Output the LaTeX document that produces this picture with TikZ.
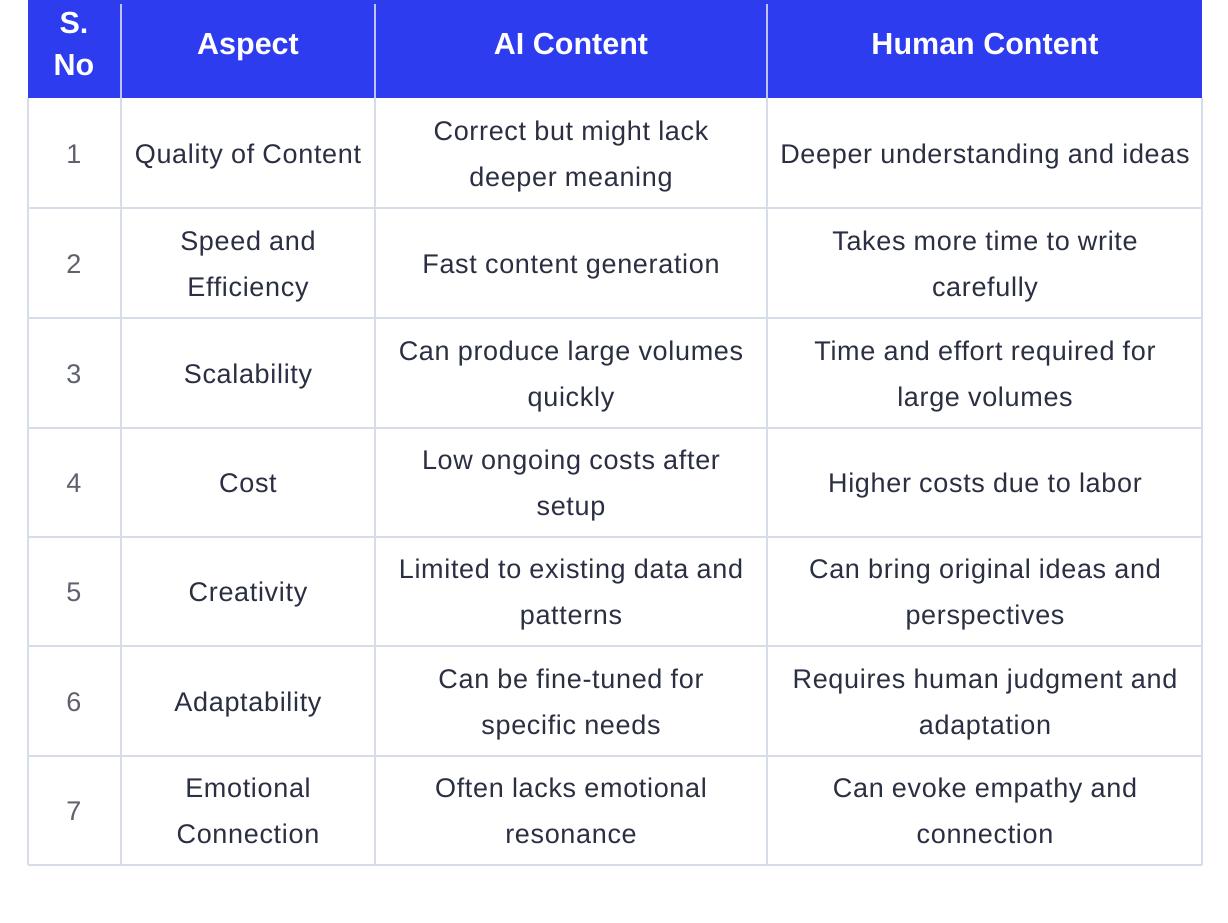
\documentclass[tikz,border=0pt]{standalone}
\usepackage{fontspec}
\setmainfont{Liberation Sans}
\newfontfamily\bodyfont[LetterSpace=2.5]{Liberation Sans}
\newfontfamily\headfont{Liberation Sans}
\definecolor{headblue}{RGB}{46,60,240}
\definecolor{gridc}{RGB}{214,221,232}
\definecolor{txt}{RGB}{43,47,66}
\definecolor{numc}{RGB}{95,98,110}
\begin{document}
\begin{tikzpicture}[x=1pt,y=-1pt,
  cell/.style={align=center,text=txt,font=\bodyfont\fontsize{27}{46}\selectfont,inner sep=0pt},
  numcell/.style={align=center,text=numc,font=\bodyfont\fontsize{27}{46}\selectfont,inner sep=0pt},
  headcell/.style={align=center,text=white,font=\headfont\bfseries\fontsize{30.5}{42}\selectfont,inner sep=0pt},
  gridline/.style={draw=gridc,line width=1.2pt},
  headsep/.style={draw=white!70!headblue,line width=1.5pt}]
\useasboundingbox (0,0) rectangle (1228,922);
\fill[white] (0,0) rectangle (1228,922);
% header
\fill[headblue] (28,0) rectangle (1202,98);
\draw[headsep] (121,4) -- (121,98);
\draw[headsep] (375,4) -- (375,98);
\draw[headsep] (767,4) -- (767,98);
% grid
\foreach \y in {208,318,428,537,646,756,865} \draw[gridline] (28,\y) -- (1202,\y);
\foreach \x in {28,121,375,767,1202} \draw[gridline] (\x,98) -- (\x,865);
% header text
\node[headcell] (h1) at (74,46) {\strut S.\\\strut No};
\node[headcell] (h2) at (248,46) {\strut Aspect};
\node[headcell] (h3) at (571,46) {\strut AI Content};
\node[headcell] (h4) at (985,46) {\strut Human Content};
% row 1
\node[numcell] (n1) at (74,154) {\strut 1};
\node[cell] (a1) at (248,154) {\strut Quality of Content};
\node[cell] (b1) at (571,154) {\strut Correct but might lack\\\strut deeper meaning};
\node[cell] (c1) at (985,154) {\strut Deeper understanding and ideas};
% row 2
\node[numcell] (n2) at (74,264) {\strut 2};
\node[cell] (a2) at (248,264) {\strut Speed and\\\strut Efficiency};
\node[cell] (b2) at (571,264) {\strut Fast content generation};
\node[cell] (c2) at (985,264) {\strut Takes more time to write\\\strut carefully};
% row 3
\node[numcell] (n3) at (74,374) {\strut 3};
\node[cell] (a3) at (248,374) {\strut Scalability};
\node[cell] (b3) at (571,374) {\strut Can produce large volumes\\\strut quickly};
\node[cell] (c3) at (985,374) {\strut Time and effort required for\\\strut large volumes};
% row 4
\node[numcell] (n4) at (74,483.5) {\strut 4};
\node[cell] (a4) at (248,483.5) {\strut Cost};
\node[cell] (b4) at (571,483.5) {\strut Low ongoing costs after\\\strut setup};
\node[cell] (c4) at (985,483.5) {\strut Higher costs due to labor};
% row 5
\node[numcell] (n5) at (74,592.5) {\strut 5};
\node[cell] (a5) at (248,592.5) {\strut Creativity};
\node[cell] (b5) at (571,592.5) {\strut Limited to existing data and\\\strut patterns};
\node[cell] (c5) at (985,592.5) {\strut Can bring original ideas and\\\strut perspectives};
% row 6
\node[numcell] (n6) at (74,702) {\strut 6};
\node[cell] (a6) at (248,702) {\strut Adaptability};
\node[cell] (b6) at (571,702) {\strut Can be fine-tuned for\\\strut specific needs};
\node[cell] (c6) at (985,702) {\strut Requires human judgment and\\\strut adaptation};
% row 7
\node[numcell] (n7) at (74,811.5) {\strut 7};
\node[cell] (a7) at (248,811.5) {\strut Emotional\\\strut Connection};
\node[cell] (b7) at (571,811.5) {\strut Often lacks emotional\\\strut resonance};
\node[cell] (c7) at (985,811.5) {\strut Can evoke empathy and\\\strut connection};
\end{tikzpicture}
\end{document}
